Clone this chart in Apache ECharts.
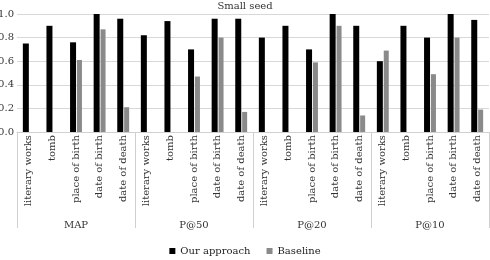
<!DOCTYPE html>
<html>
<head>
    <meta charset="utf-8">
    <title>Small seed</title>
    <script src="https://cdn.jsdelivr.net/npm/echarts@6.0.0/dist/echarts.min.js"></script>
</head>
<body style="margin:0;background:#fff;">
    <div id="chart" style="width: 490px; height: 260px;"></div>
    <script>
        // relations and metric groups
        var relations = ['literary works', 'tomb', 'place of birth', 'date of birth', 'date of death'];
        var metrics = ['MAP', 'P@50', 'P@20', 'P@10'];

        // values per metric, in relation order
        var oursMAP = [0.75, 0.90, 0.76, 1.0, 0.96];
        var oursP50 = [0.82, 0.94, 0.70, 0.96, 0.96];
        var oursP20 = [0.80, 0.90, 0.70, 1.0, 0.90];
        var oursP10 = [0.60, 0.90, 0.80, 1.0, 0.95];

        var baseMAP = [0, 0, 0.61, 0.87, 0.21];
        var baseP50 = [0, 0, 0.47, 0.80, 0.17];
        var baseP20 = [0, 0, 0.59, 0.90, 0.14];
        var baseP10 = [0.69, 0, 0.49, 0.80, 0.19];

        var yTicks = [0, 0.2, 0.4, 0.6, 0.8, 1.0];

        var categories = [];
        metrics.forEach(function () {
            relations.forEach(function (r) { categories.push(r); });
        });
        var ours = [].concat(oursMAP, oursP50, oursP20, oursP10);
        var base = [].concat(baseMAP, baseP50, baseP20, baseP10);

        var serif = 'DejaVu Serif';
        var chart = echarts.init(document.getElementById('chart'));
        chart.setOption({
            animation: false,
            textStyle: { fontFamily: serif },
            title: {
                text: 'Small seed',
                left: 'center',
                top: -4,
                textStyle: { fontFamily: serif, fontSize: 10, fontWeight: 'normal', color: '#333' }
            },
            legend: {
                bottom: -1,
                left: 'center',
                icon: 'rect',
                itemWidth: 6,
                itemHeight: 6,
                itemGap: 16,
                textStyle: { fontFamily: serif, fontSize: 10, color: '#222' },
                data: ['Our approach', 'Baseline']
            },
            grid: { left: 17, right: 1, top: 14, bottom: 128, outerBoundsMode: 'none' },
            xAxis: [{
                type: 'category',
                data: categories,
                axisLine: { lineStyle: { color: '#d0d0d0' } },
                axisTick: { show: false },
                axisLabel: {
                    interval: 0,
                    rotate: 90,
                    margin: 3,
                    fontFamily: serif,
                    fontSize: 10,
                    color: '#333'
                }
            }, {
                type: 'category',
                data: metrics,
                position: 'bottom',
                axisLine: { show: false },
                axisTick: { show: true, length: 96, interval: 0, lineStyle: { color: '#d0d0d0' } },
                axisLabel: {
                    interval: 0,
                    margin: 88,
                    fontFamily: serif,
                    fontSize: 10,
                    color: '#333'
                }
            }],
            yAxis: {
                type: 'value',
                min: yTicks[0],
                max: yTicks[yTicks.length - 1],
                interval: 0.2,
                axisLine: { show: false },
                axisTick: { show: false },
                splitLine: { lineStyle: { color: '#d8d8d8' } },
                axisLabel: {
                    margin: 3,
                    fontFamily: serif,
                    fontSize: 10,
                    color: '#333',
                    formatter: function (v) { return v.toFixed(1); }
                }
            },
            series: [{
                name: 'Our approach',
                type: 'bar',
                xAxisIndex: 0,
                barWidth: 6,
                barGap: '15%',
                itemStyle: { color: '#000' },
                data: ours
            }, {
                name: 'Baseline',
                type: 'bar',
                xAxisIndex: 0,
                barWidth: 5,
                itemStyle: { color: '#8a8a8a' },
                data: base
            }]
        });
    </script>
</body>
</html>
